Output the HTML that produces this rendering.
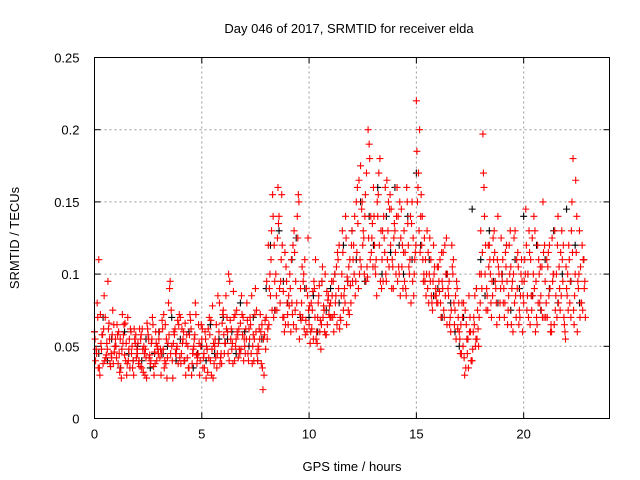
<!DOCTYPE html>
<html><head><meta charset="utf-8"><style>
body{margin:0;background:#fff;}
svg{display:block;font-family:"Liberation Sans",sans-serif;}
</style></head><body>
<svg id="chart" width="640" height="480">
<text x="349" y="33" font-size="13" text-anchor="middle">Day 046 of 2017, SRMTID for receiver elda</text>
<text x="352" y="471" font-size="13" text-anchor="middle">GPS time / hours</text>
<text transform="translate(19,238) rotate(-90)" font-size="13" text-anchor="middle">SRMTID / TECUs</text>
<g id="grid"></g>
<g id="ticks"></g>
<g id="marks"></g>
<rect x="94.5" y="57.5" width="515" height="361" fill="none" stroke="#000"/>
</svg>
<script>
const xTicks=[0,5,10,15,20];
const yTicks=[0,0.05,0.1,0.15,0.2,0.25];
const yTickLabels=["0","0.05","0.1","0.15","0.2","0.25"];
const startA=0.0, startB=0.05, startC=0.025, startD=0.075, startK=0.0, stepAB=0.1, stepK=0.2;
const redA=[60,45,110,52,38,70,48,55,42,65,50,38,55,72,44,30,48,60,40,52,45,62,35,50,42,58,38,70,46,40,55,30,48,65,42,90,50,60,45,38,70,52,40,58,35,62,48,80,42,30,55,45,28,62,40,78,50,35,60,45,75,52,60,95,48,70,55,42,66,58,50,80,62,45,58,90,40,55,65,30,70,120,85,155,95,75,140,110,88,65,72,100,80,130,62,155,90,70,110,60,65,80,55,110,70,60,95,75,58,85,80,70,100,65,120,85,75,140,95,110,130,100,150,90,175,120,140,105,190,115,160,100,140,180,110,125,95,150,120,105,130,160,100,145,115,90,135,110,150,100,220,170,140,110,95,130,100,85,120,90,80,110,95,70,125,85,60,100,75,90,60,45,80,35,55,70,40,65,90,50,130,197,100,85,120,70,110,90,140,80,95,70,120,85,105,60,130,90,75,110,80,145,100,65,125,90,70,110,85,150,95,70,120,60,100,85,140,75,110,65,90,120,70,180,100,60,130,80,110];
const redB=[40,70,30,58,85,44,62,36,75,50,65,45,28,58,40,70,35,50,62,42,38,55,48,30,66,42,52,36,60,48,42,68,35,55,80,45,28,62,50,72,45,60,30,50,72,38,55,44,65,50,35,60,48,70,30,52,42,85,38,66,45,62,100,55,38,72,60,48,85,40,62,45,70,38,55,75,48,60,20,68,55,90,130,70,100,160,80,120,60,95,85,60,120,75,140,55,80,100,68,125,52,75,90,60,85,48,70,100,65,78,95,60,85,110,70,130,90,65,105,80,110,85,160,100,145,125,95,200,110,135,120,85,170,130,95,160,110,145,90,125,100,140,85,120,95,160,105,80,125,115,150,200,120,100,85,115,95,75,105,80,95,70,115,85,100,65,120,80,55,70,45,70,30,55,85,40,60,50,75,100,90,160,75,120,100,85,115,65,100,125,80,115,65,100,90,125,70,105,85,60,110,75,130,85,100,60,120,80,105,70,80,115,60,95,130,70,105,85,120,55,100,80,150,65,115,90,105,75,95];
const redC=[55,80,35,48,62,42,95,38,58,46,42,60,35,52,66,38,55,45,30,58,52,36,62,45,28,55,40,65,38,50,60,45,72,38,52,95,40,58,48,65,38,55,66,42,58,30,50,72,45,40,62,35,50,42,68,28,55,45,80,38,58,85,45,68,52,40,75,62,48,70,45,68,55,85,40,60,50,72,35,58,95,65,110,140,75,125,90,155,70,105,65,90,72,115,80,150,68,95,58,85,78,62,95,55,80,68,105,60,88,72,70,95,80,115,62,100,85,125,75,92,95,140,115,165,105,130,155,98,180,125,140,110,155,95,130,115,165,105,145,90,115,95,150,105,130,85,120,140,95,110,185,130,155,95,110,90,125,80,100,85,105,80,90,120,65,95,75,110,85,62,55,80,42,65,35,60,48,85,55,70,100,170,120,75,110,95,130,80,105,90,110,80,95,120,65,100,85,115,70,95,95,120,70,110,85,130,65,100,75,115,70,105,90,125,65,100,80,115,95,60,85,110,130,75,165,95,70,120,90];
const redD=[48,35,72,58,40,52,66,45,38,55,58,32,48,65,52,40,62,35,55,48,40,58,32,48,62,44,55,30,52,45,48,62,40,28,58,75,52,45,68,42,62,40,52,35,68,45,58,38,52,65,42,55,32,58,48,38,65,52,42,72,52,70,40,62,88,50,58,45,72,55,55,40,65,50,72,45,62,38,55,48,62,100,75,120,85,135,95,70,115,80,78,110,65,95,125,72,105,62,90,75,60,88,70,52,92,65,78,58,82,70,85,72,105,90,68,115,80,98,72,120,120,95,135,110,150,100,170,125,140,105,105,150,120,90,140,100,130,155,110,135,140,105,125,90,115,150,100,135,85,120,160,115,140,125,100,80,110,95,85,105,88,115,75,100,90,70,105,65,95,80,65,50,75,45,60,40,70,55,62,80,115,140,90,105,80,125,95,110,70,100,90,105,75,130,95,80,110,65,100,85,100,85,115,75,140,95,80,105,70,120,110,85,65,100,75,120,90,130,70,105,75,95,115,85,140,100,80,110,70];
const blackK=[60,45,70,40,55,50,35,60,45,40,50,40,55,35,45,60,45,50,70,40,55,40,60,35,45,50,40,65,45,55,70,55,60,45,80,60,50,70,40,55,90,120,75,130,95,80,110,125,70,90,70,85,60,95,75,90,100,80,120,95,130,110,150,95,140,120,160,100,140,115,160,120,100,140,110,170,120,95,110,85,90,70,100,80,60,50,70,55,145,90,110,85,130,95,80,100,120,75,110,90,140,100,85,120,75,110,90,130,80,100,145,95,120,80,110];
const X0=94.5,X1=609.5,XMAX=24,Y0=418.5,Y1=57.5,YMAX=0.25;
const sx=v=>X0+(X1-X0)*v/XMAX, sy=v=>Y0-(Y0-Y1)*v/YMAX;
const NS="http://www.w3.org/2000/svg";
const grid=document.getElementById('grid'),ticks=document.getElementById('ticks'),marks=document.getElementById('marks');
function mk(tag,at,parent){const e=document.createElementNS(NS,tag);for(const k in at)e.setAttribute(k,at[k]);parent.appendChild(e);return e;}
xTicks.forEach(t=>{const x=sx(t);
 if(t>0){const g=mk('line',{x1:x,x2:x,y1:Y0,y2:Y1,stroke:'#999','stroke-dasharray':'2,3'},grid);
 
 }
 mk('line',{x1:x,x2:x,y1:Y0,y2:Y0-6,stroke:'#000'},ticks);mk('line',{x1:x,x2:x,y1:Y1,y2:Y1+6,stroke:'#000'},ticks);
 const l=mk('text',{x:x,y:Y0+20,'font-size':13,'text-anchor':'middle'},ticks);l.textContent=t;
 
 });
yTicks.forEach((t,i)=>{const y=sy(t);
 if(t>0&&t<YMAX){const g=mk('line',{x1:X0,x2:X1,y1:y,y2:y,stroke:'#999','stroke-dasharray':'2,3'},grid);
 
 }
 mk('line',{x1:X0,x2:X0+6,y1:y,y2:y,stroke:'#000'},ticks);mk('line',{x1:X1,x2:X1-6,y1:y,y2:y,stroke:'#000'},ticks);
 const l=mk('text',{x:X0-15,y:y+5,'font-size':13,'text-anchor':'end'},ticks);l.textContent=yTickLabels[i];
 
 });
function plot(arr,start,step,color,name){let d='';arr.forEach((v,i)=>{const x=sx(start+i*step),y=sy(v/1000);d+=`M${x-3.5},${y}h7M${x},${y-3.5}v7`;});
 const p=mk('path',{d:d,stroke:color,'stroke-width':1.1,fill:'none'},marks);
 
 }
plot(blackK,startK,stepK,'#000','black-series');
plot(redA,startA,stepAB,'#f00','red-series-a');
plot(redB,startB,stepAB,'#f00','red-series-b');
plot(redC,startC,stepAB,'#f00','red-series-c');
plot(redD,startD,stepAB,'#f00','red-series-d');
</script>
</body></html>
